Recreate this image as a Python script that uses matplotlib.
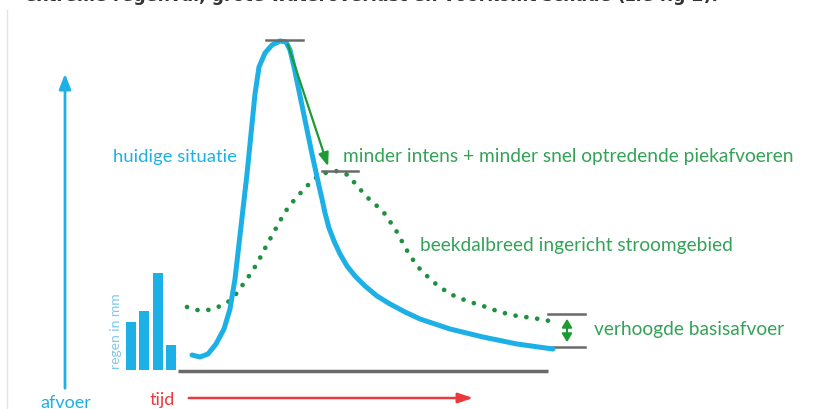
import matplotlib
matplotlib.use("Agg")
import matplotlib.pyplot as plt

# schematic hydrograph: time (x) vs discharge (q), baseline q=0
blue_t = [192, 200, 208, 216, 224, 230, 235, 239, 243, 247, 251, 255, 259, 265,
          272, 280, 286, 290, 294, 298, 305, 312, 319, 322, 325, 329, 334, 340,
          347, 355, 365, 377, 390, 405, 420, 450, 483, 517, 553]
blue_q = [15, 13, 16, 26, 41, 61, 91, 126, 161, 196, 236, 276, 303, 317,
          325, 329, 328, 320, 303, 284, 250, 216, 184, 171, 157, 142, 129, 116,
          104, 94, 84, 74, 66, 58, 51, 41, 33, 26, 21]

green_t = [187, 197, 208, 218, 228, 236, 247, 253, 258, 263, 275, 285, 295, 307,
           318, 328, 338, 348, 358, 368, 377, 385, 397, 406, 417, 425, 432, 440,
           450, 467, 483, 500, 517, 533, 550]
green_q = [63, 60, 60, 63, 68, 76, 91, 100, 108, 118, 140, 158, 171, 184,
           194, 198, 199, 195, 183, 172, 164, 156, 138, 121, 104, 96, 89, 83,
           76, 69, 64, 58, 54, 52, 49]

rain_t = [131, 144, 158, 170.5]
rain_mm = [48, 59, 97, 25]

base_low, base_high = 23, 56

cyan = "#1cb0e6"
green = "#34a257"
dot_green = "#1f9040"
grey = "#6a6a6a"
red = "#ea3a3e"
font = "Lato"

fig = plt.figure(figsize=(8.16, 4.10), dpi=100)
ax = fig.add_axes([0, 0, 1, 1])
ax.set_xlim(0, 816)
ax.set_ylim(-39, 371)
ax.axis("off")

# cut off sentence at the top
ax.text(25, 375, "extreme regenval, grote wateroverlast en voorkomt schade (zie fig 2).",
        fontsize=12.5, fontweight="bold", color="#333333", va="center", ha="left",
        clip_on=True)
ax.plot([7, 7], [-39, 360], color="#e4e4e4", lw=1)

# axes arrows
ax.annotate("", xy=(65, 299), xytext=(65, -21),
            arrowprops=dict(arrowstyle="-|>,head_length=0.9,head_width=0.35", color=cyan, lw=2))
ax.text(66, -32, "afvoer", color=cyan, fontsize=13, family=font, ha="center", va="center")
ax.annotate("", xy=(476, -28), xytext=(186, -28),
            arrowprops=dict(arrowstyle="-|>,head_length=0.9,head_width=0.3", color=red, lw=1.8))
ax.text(162, -29, "tijd", color=red, fontsize=13, family=font, ha="center", va="center")
ax.plot([178, 548], [-1, -1], color=grey, lw=2.5, solid_capstyle="butt")

# rain bars
ax.bar(rain_t, rain_mm, width=10, bottom=0, color=cyan)
ax.text(116, 40, "regen in mm", color="#7fc8ea", fontsize=10, family=font,
        rotation=90, ha="center", va="center")

# curves
ax.plot(green_t, green_q, color=dot_green, lw=3.4, linestyle=(0, (0.01, 2.3)),
        dash_capstyle="round", zorder=3)
ax.plot(blue_t, blue_q, color=cyan, lw=3.6, solid_joinstyle="round",
        solid_capstyle="round", zorder=4)

# peak markers and arrow
ax.plot([266, 303], [330, 330], color=grey, lw=1.8, zorder=5)
ax.plot([322, 358], [199, 199], color=grey, lw=1.8, zorder=5)
ax.annotate("", xy=(329, 201), xytext=(287, 328),
            arrowprops=dict(arrowstyle="-|>,head_length=0.8,head_width=0.3", color="#1e9a35", lw=1.6),
            zorder=6)

# base flow markers
ax.plot([548, 585], [base_high, base_high], color=grey, lw=1.8)
ax.plot([548, 585], [base_low, base_low], color=grey, lw=1.8)
ax.annotate("", xy=(567, base_high - 2), xytext=(567, base_low + 2),
            arrowprops=dict(arrowstyle="<|-|>,head_length=0.5,head_width=0.3", color="#1e9a35", lw=1.5))

# labels
ax.text(237, 214, "huidige situatie", color=cyan, fontsize=13.3, family=font, ha="right", va="center")
ax.text(343, 214, "minder intens + minder snel optredende piekafvoeren", color=green,
        fontsize=13.8, family=font, ha="left", va="center")
ax.text(420, 125, "beekdalbreed ingericht stroomgebied", color=green,
        fontsize=13.8, family=font, ha="left", va="center")
ax.text(594, 41, "verhoogde basisafvoer", color=green,
        fontsize=13.8, family=font, ha="left", va="center")

fig.savefig("out.png", dpi=100)
